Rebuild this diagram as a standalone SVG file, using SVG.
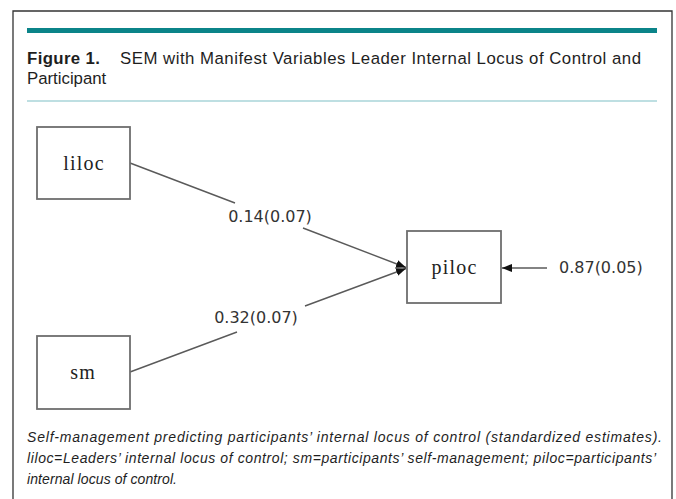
<svg xmlns="http://www.w3.org/2000/svg" width="676" height="499" viewBox="0 0 676 499">
<style>
.title{font-family:"Liberation Sans",Arial,sans-serif;font-size:16.8px;fill:#1e1e1e}
.cap{font-family:"Liberation Sans",Arial,sans-serif;font-size:14px;font-style:italic;fill:#1e1e1e}
.box{fill:#fff;stroke:#6e6e6e;stroke-width:1.8}
.nl{font-family:"Liberation Serif","Times New Roman",serif;font-size:20px;fill:#222;letter-spacing:1.2px;text-anchor:middle}
.el{font-family:"DejaVu Sans",Verdana,sans-serif;font-size:16px;fill:#333}
.edge{fill:none;stroke:#5a5a5a;stroke-width:1.4}
</style>
<defs>
<marker id="arr" markerUnits="userSpaceOnUse" markerWidth="12" markerHeight="10" refX="10" refY="4" orient="auto">
<path d="M0,0 L10,4 L0,8 z" fill="#111"/>
</marker>
</defs>
<rect x="0" y="0" width="676" height="499" fill="#fff"/>
<path d="M13,499 V11 H672 V499" fill="none" stroke="#333" stroke-width="1.3"/>
<rect x="27" y="28" width="630" height="5" fill="#0b8489"/>
<text class="title" x="27" y="64" font-weight="bold" textLength="73" lengthAdjust="spacing">Figure 1.</text>
<text class="title" x="120" y="64" textLength="521" lengthAdjust="spacing">SEM with Manifest Variables Leader Internal Locus of Control and</text>
<text class="title" x="27" y="84">Participant</text>
<line x1="27" y1="101" x2="657" y2="101" stroke="#a9d4d8" stroke-width="1.5"/>
<g id="connectors">
<path class="edge" d="M130,163 L235,203 M303,228 L406,267.5" marker-end="url(#arr)"/>
<path class="edge" d="M130,372 L237,332 M305,306 L406,268.5" marker-end="url(#arr)"/>
<path class="edge" d="M547,268 L502,268" marker-end="url(#arr)"/>
<text class="el" x="270" y="222" text-anchor="middle">0.14(0.07)</text>
<text class="el" x="256" y="323" text-anchor="middle">0.32(0.07)</text>
<text class="el" x="559" y="273">0.87(0.05)</text>
</g>
<g id="liloc">
<rect class="box" x="37" y="127" width="93" height="72"/>
<text class="nl" x="84.1" y="170">liloc</text>
</g>
<g id="sm">
<rect class="box" x="37" y="336" width="93" height="73"/>
<text class="nl" x="83.1" y="379">sm</text>
</g>
<g id="piloc">
<rect class="box" x="407" y="231" width="94" height="72"/>
<text class="nl" x="454.6" y="274">piloc</text>
</g>
<text class="cap" x="27" y="442" textLength="635" lengthAdjust="spacing">Self-management predicting participants’ internal locus of control (standardized estimates).</text>
<text class="cap" x="27" y="463" textLength="629" lengthAdjust="spacing">liloc=Leaders’ internal locus of control; sm=participants’ self-management; piloc=participants’</text>
<text class="cap" x="27" y="484" textLength="150" lengthAdjust="spacing">internal locus of control.</text>
</svg>
